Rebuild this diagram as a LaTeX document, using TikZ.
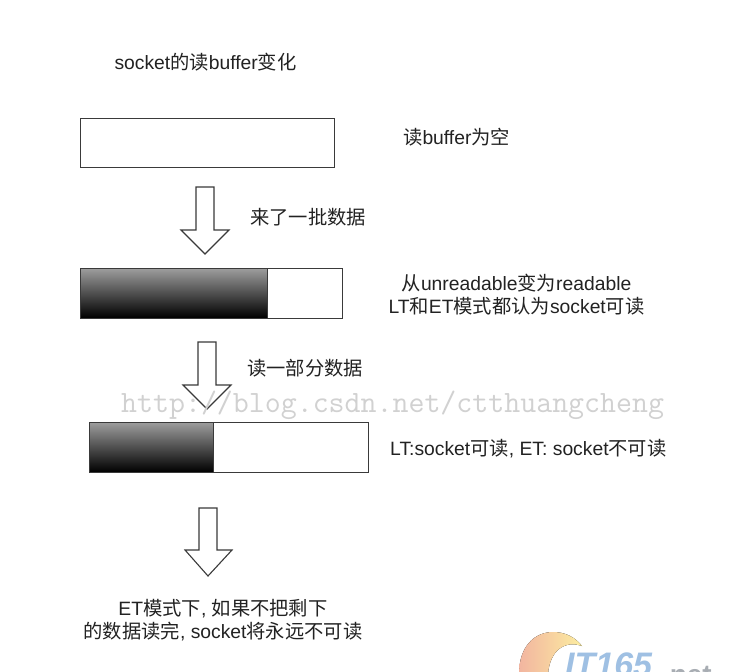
\documentclass[tikz,border=0pt]{standalone}
\usepackage{fontspec}
\setmainfont{Liberation Sans}
\newfontfamily\cjk{Noto Sans CJK SC}
\newcommand{\zh}[1]{{\cjk #1}}
\definecolor{ink}{HTML}{222222}
\definecolor{edge}{HTML}{3A3A3A}
\definecolor{logoblue}{HTML}{9FC0E3}
\definecolor{logogrey}{HTML}{A8ADB3}
\definecolor{logoyellow}{HTML}{FCEDA0}
\definecolor{logored}{HTML}{F2B5A0}
\tikzset{
  x=1pt,y=-1pt,
  lab/.style={inner sep=0pt,text=ink,font=\fontsize{19.3}{23}\selectfont,align=center},
  leftlab/.style={lab,anchor=west},
  bufbox/.style={draw=edge,line width=1pt,fill=white,anchor=north west,inner sep=0pt,outer sep=0pt},
  filled/.style={draw=edge,line width=1pt,top color=black!38,bottom color=black,anchor=north west,inner sep=0pt,outer sep=0pt},
  blockarrow/.style={draw=edge,line width=1.1pt,fill=white,line join=miter},
  water/.style={inner sep=0pt,text=black!18,anchor=base west,font=\ttfamily\fontsize{31}{32}\selectfont}
}
\begin{document}
\begin{tikzpicture}
\useasboundingbox (0,0) rectangle (748,672);
\fill[white] (0,0) rectangle (748,672);
% boxes
\node[bufbox,minimum width=254pt,minimum height=49pt] (b1) at (80,118) {};
\node[bufbox,minimum width=262pt,minimum height=50pt] (b2) at (80,268) {};
\node[filled,minimum width=187pt,minimum height=50pt] (f2) at (80,268) {};
\node[bufbox,minimum width=279pt,minimum height=50pt] (b3) at (89,422) {};
\node[filled,minimum width=124pt,minimum height=50pt] (f3) at (89,422) {};
% block arrows
\draw[blockarrow] (196,187) -- (214,187) -- (214,230) -- (229,230) -- (205,254) -- (181,230) -- (196,230) -- cycle;
\draw[blockarrow] (198,342) -- (216,342) -- (216,385) -- (231,385) -- (207,409) -- (183,385) -- (198,385) -- cycle;
\draw[blockarrow] (199,508) -- (217,508) -- (217,550) -- (232,550) -- (208,576) -- (185,550) -- (199,550) -- cycle;
% labels
\node[lab] (title) at (205.5,62) {socket\zh{的读}buffer\zh{变化}};
\node[leftlab] (t1) at (403,137) {\zh{读}buffer\zh{为空}};
\node[leftlab] (t2) at (250,217) {\zh{来了一批数据}};
\node[lab] (t3) at (516.5,294.5) {\zh{从}unreadable\zh{变为}readable\\LT\zh{和}ET\zh{模式都认为}socket\zh{可读}};
\node[leftlab] (t4) at (247,368) {\zh{读一部分数据}};
\node[leftlab] (t5) at (390,449) {LT:socket\zh{可读}, ET: socket\zh{不可读}};
\node[lab] (t6) at (223,620.5) {ET\zh{模式下}, \zh{如果不把剩下}\\\zh{的数据读完}, socket\zh{将永远不可读}};
% watermark
\node[water] (wm) at (121,412) {http://blog.csdn.net/ctthuangcheng};
% logo
\begin{scope}
\clip (480,600) rectangle (748,672);
\fill[left color=logored,right color=logoyellow]
  (519,674) .. controls (519,646) and (535,632) .. (553,632)
  .. controls (565,632) and (575,637) .. (582,646)
  .. controls (565,640) and (550,650) .. (548,674) -- cycle;
\node[inner sep=0pt,anchor=base west,text=logoblue,font=\bfseries\itshape\fontsize{34}{34}\selectfont] (logo) at (565,676) {IT165};
\node[inner sep=0pt,anchor=base east,text=logogrey,font=\bfseries\fontsize{28}{28}\selectfont] (net) at (712,684) {.net};
\end{scope}
\end{tikzpicture}
\end{document}
